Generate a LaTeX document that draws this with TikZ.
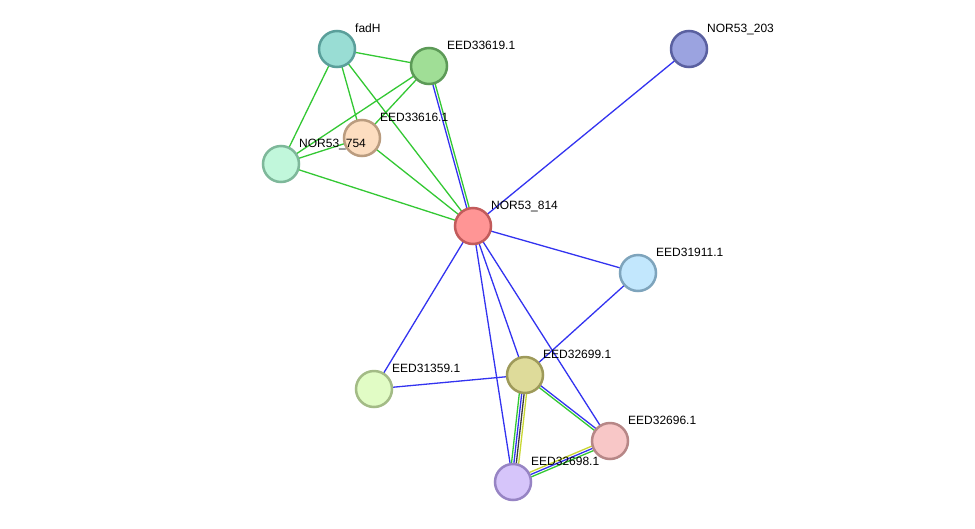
\documentclass[tikz,border=0pt]{standalone}
\usepackage{fontspec}
\setmainfont{Liberation Sans}
\usetikzlibrary{calc}
\pgfdeclarelayer{bg}
\pgfsetlayers{bg,main}
\definecolor{eg}{RGB}{51,200,51}
\definecolor{eb}{RGB}{51,51,240}
\definecolor{ey}{RGB}{200,215,50}
\definecolor{ek}{RGB}{60,60,60}
\definecolor{fA}{HTML}{99DDD4}\definecolor{dA}{HTML}{5A9F9A}
\definecolor{fB}{HTML}{A0DE96}\definecolor{dB}{HTML}{5C9A57}
\definecolor{fC}{HTML}{9BA3E0}\definecolor{dC}{HTML}{5A60A0}
\definecolor{fD}{HTML}{FCDDC0}\definecolor{dD}{HTML}{BA9C7F}
\definecolor{fE}{HTML}{C1F7DB}\definecolor{dE}{HTML}{7EB89A}
\definecolor{fF}{HTML}{FF9595}\definecolor{dF}{HTML}{C25B5B}
\definecolor{fG}{HTML}{C2E7FD}\definecolor{dG}{HTML}{7EA4BC}
\definecolor{fH}{HTML}{DEDB9A}\definecolor{dH}{HTML}{9E9A5A}
\definecolor{fI}{HTML}{E1FCC5}\definecolor{dI}{HTML}{A3BB86}
\definecolor{fJ}{HTML}{F8C7C7}\definecolor{dJ}{HTML}{B78787}
\definecolor{fK}{HTML}{D6C5FA}\definecolor{dK}{HTML}{9784C4}
\tikzset{
  prot/.style={circle, draw, line width=2.5pt, minimum size=36pt, inner sep=0pt},
  lab/.style={anchor=base west, inner sep=0pt, font=\fontsize{12}{14}\selectfont},
  edge/.style={line width=1.3pt},
}
\newcommand{\pe}[4]{\draw[edge,#1] ($(#3.center)!#2!90:(#4.center)$) -- ($(#4.center)!#2!-90:(#3.center)$);}
\newcommand{\prot}[6]{%
  \node[prot, fill=f#4, draw=d#4] (#1) at (#2,#3) {};
  \node[lab] (#1l) at (#2+18,#3-16.5) {#5};}
\begin{document}
\begin{tikzpicture}[x=1pt,y=-1pt]
\useasboundingbox (0,0) rectangle (975,528);
\prot{fadH}{337}{49}{A}{fadH}{}
\prot{e619}{429}{66}{B}{EED33619.1}{}
\prot{n203}{689}{49}{C}{NOR53\_203}{}
\prot{e616}{362}{138}{D}{EED33616.1}{}
\prot{n754}{281}{164}{E}{NOR53\_754}{}
\prot{n814}{473}{226}{F}{NOR53\_814}{}
\prot{e911}{638}{273}{G}{EED31911.1}{}
\prot{e699}{525}{375}{H}{EED32699.1}{}
\prot{e359}{374}{389}{I}{EED31359.1}{}
\prot{e696}{610}{441}{J}{EED32696.1}{}
\prot{e698}{513}{482}{K}{EED32698.1}{}
\begin{pgfonlayer}{bg}
\fill[white] (0,0) rectangle (975,528);
\pe{eg}{0pt}{fadH}{e619}
\pe{eg}{0pt}{fadH}{n754}
\pe{eg}{0pt}{fadH}{e616}
\pe{eg}{0pt}{fadH}{n814}
\pe{eg}{0pt}{e619}{n754}
\pe{eg}{0pt}{e619}{e616}
\pe{eb}{-1.2pt}{e619}{n814}
\pe{eg}{1.2pt}{e619}{n814}
\pe{eg}{0pt}{e616}{n754}
\pe{eg}{0pt}{e616}{n814}
\pe{eg}{0pt}{n754}{n814}
\pe{eb}{0pt}{n203}{n814}
\pe{eb}{0pt}{n814}{e911}
\pe{eb}{0pt}{n814}{e359}
\pe{eb}{0pt}{n814}{e699}
\pe{eb}{0pt}{n814}{e698}
\pe{eb}{0pt}{n814}{e696}
\pe{eb}{0pt}{e911}{e699}
\pe{eb}{0pt}{e359}{e699}
\pe{eg}{-3.6pt}{e699}{e698}
\pe{eb}{-1.2pt}{e699}{e698}
\pe{ek}{1.2pt}{e699}{e698}
\pe{ey}{3.6pt}{e699}{e698}
\pe{eg}{-1.2pt}{e699}{e696}
\pe{eb}{1.2pt}{e699}{e696}
\pe{ey}{-2.4pt}{e696}{e698}
\pe{eb}{0pt}{e696}{e698}
\pe{eg}{2.4pt}{e696}{e698}
\end{pgfonlayer}
\end{tikzpicture}
\end{document}
